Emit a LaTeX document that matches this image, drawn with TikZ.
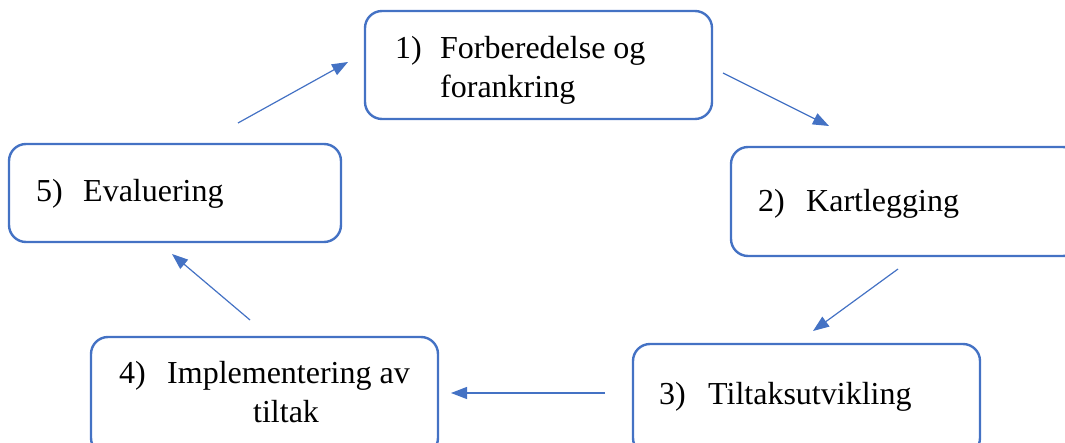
\documentclass[tikz,border=0pt]{standalone}
\usepackage{fontspec}
\setmainfont{Liberation Serif}
\usetikzlibrary{arrows.meta}
\definecolor{wblue}{HTML}{4472C4}
\begin{document}
\begin{tikzpicture}[x=1pt,y=-1pt,
  box/.style={draw=wblue,line width=2.4pt,rounded corners=17pt,rectangle,inner sep=0pt,outer sep=0pt},
  txt/.style={anchor=base west,inner sep=0pt,font=\fontsize{32}{39}\selectfont},
  flow/.style={draw=wblue,line width=1.2pt,-{Triangle[length=16pt,width=12pt]}}]
\clip (0,0) rectangle (1065,443);
% boxes
\node[box,minimum width=347pt,minimum height=108pt] (b1) at (538.5,65) {};
\node[box,minimum width=349pt,minimum height=109pt] (b2) at (905.5,201.5) {};
\node[box,minimum width=347pt,minimum height=111pt] (b3) at (806.5,399.5) {};
\node[box,minimum width=347pt,minimum height=118pt] (b4) at (264.5,396) {};
\node[box,minimum width=332pt,minimum height=98pt] (b5) at (175,193) {};
% texts
\node[txt] (n1) at (395,59) {1)};
\node[txt] (t1a) at (440,59) {Forberedelse og};
\node[txt] (t1b) at (440,98) {forankring};
\node[txt] (n2) at (758,212) {2)};
\node[txt] (t2) at (806,212) {Kartlegging};
\node[txt] (n3) at (659,404) {3)};
\node[txt] (t3) at (708,404) {Tiltaksutvikling};
\node[txt] (n4) at (119,383) {4)};
\node[txt] (t4a) at (167,383) {Implementering av};
\node[txt] (t4b) at (253,422) {tiltak};
\node[txt] (n5) at (36,202) {5)};
\node[txt] (t5) at (83,202) {Evaluering};
% connector ends
\coordinate (a1s) at (723,73);  \coordinate (a1e) at (829,126);
\coordinate (a2s) at (898,269); \coordinate (a2e) at (813,331);
\coordinate (a3s) at (605,393); \coordinate (a3e) at (451,393);
\coordinate (a4s) at (250,320); \coordinate (a4e) at (172,254);
\coordinate (a5s) at (238,123); \coordinate (a5e) at (348,62);
\draw[flow] (a1s) -- (a1e);
\draw[flow] (a2s) -- (a2e);
\draw[flow] (a3s) -- (a3e);
\draw[flow] (a4s) -- (a4e);
\draw[flow] (a5s) -- (a5e);
\end{tikzpicture}
\end{document}
